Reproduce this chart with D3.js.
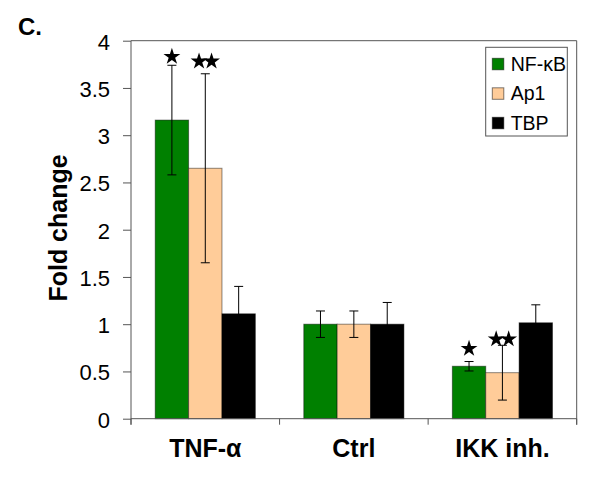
<!DOCTYPE html>
<html>
<head>
<meta charset="utf-8">
<script src="https://cdn.jsdelivr.net/npm/d3@7"></script>
<style>
  body { margin: 0; background: #fff; }
  svg { display: block; font-family: "Liberation Sans", Arial, sans-serif; }
</style>
</head>
<body>
<div id="chart"></div>
<script>
// data
const categories = ["TNF-\u03b1", "Ctrl", "IKK inh."];
const seriesNames = ["NF-\u03baB", "Ap1", "TBP"];
const seriesColors = ["#008000", "#ffcc99", "#000000"];
const nfkbValues = [3.16, 1.0, 0.555];
const ap1Values = [2.65, 1.0, 0.487];
const tbpValues = [1.11, 1.0, 1.015];
const nfkbErrors = [0.58, 0.14, 0.05];
const ap1Errors = [1.0, 0.14, 0.29];
const tbpErrors = [0.29, 0.23, 0.19];
// significance marks: [category, series, number of stars, y in data units]
const starMarks = [
  [0, 0, 1, 3.84],
  [0, 1, 2, 3.79],
  [2, 0, 1, 0.75],
  [2, 1, 2, 0.85]
];
const yTicks = [0, 0.5, 1, 1.5, 2, 2.5, 3, 3.5, 4];

const values = [nfkbValues, ap1Values, tbpValues];
const errors = [nfkbErrors, ap1Errors, tbpErrors];

const width = 600, height = 481;
const margin = { top: 40.7, right: 23.3, bottom: 62.3, left: 131 };
const innerW = width - margin.left - margin.right;
const innerH = height - margin.top - margin.bottom;

const svg = d3.select("#chart").append("svg")
  .attr("width", width)
  .attr("height", height);

const g = svg.append("g").attr("transform", `translate(${margin.left},${margin.top})`);

const x0 = d3.scaleBand().domain(d3.range(categories.length)).range([0, innerW]).paddingInner(0).paddingOuter(0);
const x1 = d3.scaleBand().domain(d3.range(seriesNames.length)).range([0, x0.bandwidth() * 0.674])
const groupOffset = (x0.bandwidth() - x1.range()[1]) / 2;
const y = d3.scaleLinear().domain([0, 4]).range([innerH, 0]);

const axisColor = "#555";

// plot frame (top and right)
g.append("path")
  .attr("d", `M0,0H${innerW}V${innerH + 6}`)
  .attr("fill", "none")
  .attr("stroke", axisColor)
  .attr("stroke-width", 1);

// bars
const rows = [];
categories.forEach((c, ci) => {
  seriesNames.forEach((s, si) => {
    rows.push({ ci, si, v: values[si][ci], e: errors[si][ci] });
  });
});

const barX = d => x0(d.ci) + groupOffset + x1(d.si);

g.append("g").selectAll("rect")
  .data(rows)
  .join("rect")
  .attr("x", barX)
  .attr("y", d => y(d.v))
  .attr("width", x1.bandwidth())
  .attr("height", d => y(0) - y(d.v))
  .attr("fill", d => seriesColors[d.si])
  .attr("stroke", "#000")
  .attr("stroke-opacity", 0.45)
  .attr("stroke-width", 1);

// error bars
const eb = g.append("g").attr("stroke", "#000").attr("stroke-width", 1);
const cap = 4.5;
rows.forEach(d => {
  const cx = barX(d) + x1.bandwidth() / 2;
  eb.append("line").attr("x1", cx).attr("x2", cx).attr("y1", y(d.v + d.e)).attr("y2", y(d.v - d.e));
  eb.append("line").attr("x1", cx - cap).attr("x2", cx + cap).attr("y1", y(d.v + d.e)).attr("y2", y(d.v + d.e));
  eb.append("line").attr("x1", cx - cap).attr("x2", cx + cap).attr("y1", y(d.v - d.e)).attr("y2", y(d.v - d.e));
});

// stars
const star = d3.symbol().type(d3.symbolStar).size(88);
starMarks.forEach(([ci, si, n, v]) => {
  const cx = x0(ci) + groupOffset + x1(si) + x1.bandwidth() / 2;
  const step = 12.5;
  for (let k = 0; k < n; k++) {
    const sx = cx + (k - (n - 1) / 2) * step;
    g.append("path")
      .attr("d", star())
      .attr("transform", `translate(${sx},${y(v) + 0.8})`)
      .attr("fill", "#000");
  }
});

// y axis
const yAxis = g.append("g")
  .call(d3.axisLeft(y).tickValues(yTicks).tickFormat(d3.format("")).tickSize(8).tickPadding(13));
yAxis.select(".domain").remove();
yAxis.selectAll(".tick line").attr("stroke", axisColor);
yAxis.selectAll(".tick text")
  .attr("fill", "#000")
  .style("font-size", "22px")
  .attr("dy", "0.38em");
g.append("line")
  .attr("x1", 0).attr("x2", 0).attr("y1", 0).attr("y2", innerH + 6)
  .attr("stroke", axisColor);

// x axis
g.append("line")
  .attr("x1", 0).attr("x2", innerW).attr("y1", innerH).attr("y2", innerH)
  .attr("stroke", axisColor);
g.append("g").selectAll("line")
  .data(d3.range(categories.length + 1))
  .join("line")
  .attr("x1", i => i * x0.step()).attr("x2", i => i * x0.step())
  .attr("y1", innerH).attr("y2", innerH + 6)
  .attr("stroke", axisColor);
g.append("g").selectAll("text")
  .data(categories)
  .join("text")
  .attr("x", (d, i) => x0(i) + x0.bandwidth() / 2)
  .attr("y", innerH + 38.5)
  .attr("text-anchor", "middle")
  .style("font-size", "25px")
  .style("font-weight", "bold")
  .text(d => d);

// y axis title
svg.append("text")
  .attr("transform", "translate(67,228) rotate(-90)")
  .attr("text-anchor", "middle")
  .style("font-size", "25px")
  .style("font-weight", "bold")
  .text("Fold change");

// panel letter
svg.append("text")
  .attr("x", 18)
  .attr("y", 35)
  .style("font-size", "24px")
  .style("font-weight", "bold")
  .text("C.");

// legend
const legend = svg.append("g").attr("transform", "translate(485.7,47.3)");
legend.append("rect")
  .attr("width", 81.6)
  .attr("height", 88.7)
  .attr("fill", "#fff")
  .attr("stroke", axisColor);
seriesNames.forEach((s, i) => {
  const row = legend.append("g").attr("transform", `translate(0,${11 + i * 29.5})`);
  row.append("rect")
    .attr("x", 6.6).attr("y", 0)
    .attr("width", 11.5).attr("height", 11.5)
    .attr("fill", seriesColors[i])
    .attr("stroke", "#000").attr("stroke-opacity", 0.5);
  row.append("text")
    .attr("x", 25)
    .attr("y", 12.5)
    .style("font-size", "19.5px")
    .text(s);
});
</script>
</body>
</html>
